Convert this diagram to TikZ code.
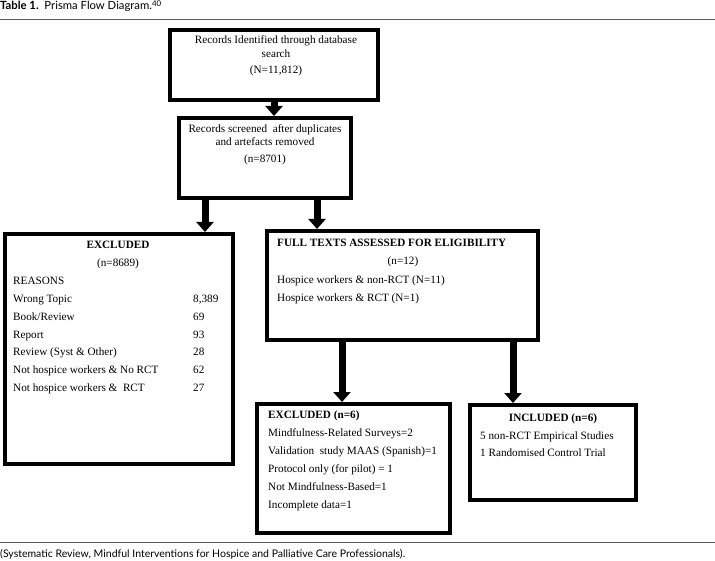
\documentclass[tikz,border=0pt]{standalone}
\usepackage{fontspec}
\setmainfont{Liberation Serif}
\newfontfamily\gillfont{Lato}
\usetikzlibrary{arrows.meta,calc}

\begin{document}
\begin{tikzpicture}[x=1pt,y=-1pt,
        box/.style={draw,line width=4pt,inner sep=0pt},
        fatarrow/.style={line width=7pt,-{Triangle[width=17pt,length=10pt]}},
        txt/.style={font=\fontsize{11.2}{13}\selectfont,inner sep=0pt},
        captxt/.style={font=\gillfont\fontsize{10.5}{12}\selectfont,inner sep=0pt,anchor=base west},
        hrule/.style={draw=black!65,line width=0.8pt}]
    \useasboundingbox (0,0) rectangle (715,561);
    % caption and rules
    \node[captxt,font=\gillfont\fontsize{11.3}{13}\selectfont] (title) at (0,10) {\textbf{Table 1.}\ \ Prisma Flow Diagram.\textsuperscript{40}};
    \coordinate (topL) at (0,19);
    \coordinate (topR) at (715,19);
    \draw[hrule] (topL) -- (topR);
    \coordinate (botL) at (0,542);
    \coordinate (botR) at (715,542);
    \draw[hrule] (botL) -- (botR);
    \node[captxt] (foot) at (0,557) {(Systematic Review, Mindful Interventions for Hospice and Palliative Care Professionals).};
    % boxes
    \node[box,minimum width=208pt,minimum height=70pt] (ident) at (274,65) {};
    \node[box,minimum width=172pt,minimum height=80pt] (screen) at (265,158) {};
    \node[box,minimum width=228pt,minimum height=230pt] (exclA) at (119,349) {};
    \node[box,minimum width=271pt,minimum height=109pt] (full) at (402.5,285.5) {};
    \node[box,minimum width=193pt,minimum height=129pt] (exclB) at (353.5,468.5) {};
    \node[box,minimum width=166pt,minimum height=95pt] (incl) at (553,452.5) {};
    % arrows
    \draw[fatarrow] (ident.south) -- (ident.south |- screen.north);
    \draw[fatarrow] ([xshift=-60pt]screen.south) -- ([xshift=-60pt]screen.south |- exclA.north);
    \draw[fatarrow] ([xshift=52pt]screen.south) -- ([xshift=52pt]screen.south |- full.north);
    \draw[fatarrow] ([xshift=-60.5pt]full.south) -- ([xshift=-60.5pt]full.south |- exclB.north);
    \draw[fatarrow] ([xshift=110.5pt]full.south) -- ([xshift=110.5pt]full.south |- incl.north);
    % identified
    \node[txt,anchor=base] (ident1) at (276,44) {Records Identified through database};
    \node[txt,anchor=base] (ident2) at (276,58) {search};
    \node[txt,anchor=base] (ident3) at (276,74) {(N=11,812)};
    % screened
    \node[txt,anchor=base] (screen1) at (265,133) {Records screened~ after duplicates};
    \node[txt,anchor=base] (screen2) at (265,146) {and artefacts removed};
    \node[txt,anchor=base] (screen3) at (265,163) {(n=8701)};
    % excluded, first stage
    \node[txt,anchor=base] (exclAhead) at (118,249) {\textbf{EXCLUDED}};
    \node[txt,anchor=base] (exclAn) at (118,267) {(n=8689)};
    \node[txt,anchor=base west] (reasons) at (13,285) {REASONS};
    \foreach \reason/\num [count=\i from 0] in {Wrong Topic/{8,389}, {Book/Review}/69, Report/93,
            Review (Syst \& Other)/28, Not hospice workers \& No RCT/62, Not hospice workers \&~ RCT/27}
    {
        \node[txt,anchor=base west] (reason\i) at (13,302.7+17.7*\i) {\reason};
        \node[txt,anchor=base west] (count\i) at (193,302.7+17.7*\i) {\num};
    }
    % full texts
    \node[txt,anchor=base west] (fullhead) at (277,246.7) {\textbf{FULL TEXTS ASSESSED FOR ELIGIBILITY}};
    \node[txt,anchor=base] (fulln) at (403,265) {(n=12)};
    \node[txt,anchor=base west] (full1) at (277,284) {Hospice workers \& non-RCT (N=11)};
    \node[txt,anchor=base west] (full2) at (277,301.7) {Hospice workers \& RCT (N=1)};
    % excluded, second stage
    \foreach \line [count=\i from 0] in {\textbf{EXCLUDED (n=6)}, Mindfulness-Related Surveys=2,
            Validation~ study MAAS (Spanish)=1, Protocol only (for pilot) = 1,
            Not Mindfulness-Based=1, Incomplete data=1}
        \node[txt,anchor=base west] (exclB\i) at (268,418+18.1*\i) {\line};
    % included
    \node[txt,anchor=base] (inclhead) at (553,421.7) {\textbf{INCLUDED (n=6)}};
    \node[txt,anchor=base west] (incl1) at (480,439.3) {5 non-RCT Empirical Studies};
    \node[txt,anchor=base west] (incl2) at (480,456.7) {1 Randomised Control Trial};
\end{tikzpicture}
\end{document}
